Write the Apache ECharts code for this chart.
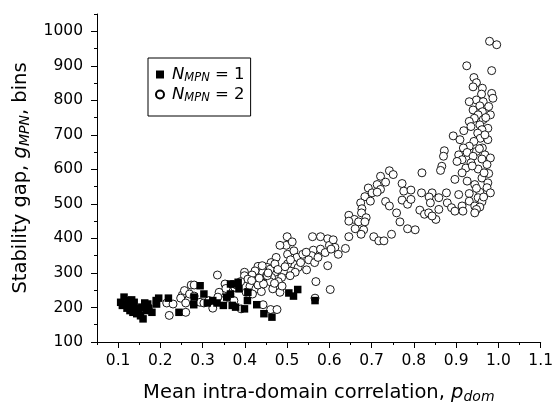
<!DOCTYPE html>
<html>
<head>
<meta charset="utf-8">
<script src="https://cdn.jsdelivr.net/npm/echarts@6/dist/echarts.min.js"></script>
<style>
html,body{margin:0;padding:0;background:#fff;}
#chart{width:556px;height:409px;}
</style>
</head>
<body>
<div id="chart"></div>
<script>
// x tick labels / y tick labels
var xTicks = [0.1,0.2,0.3,0.4,0.5,0.6,0.7,0.8,0.9,1.0,1.1];
var xMinorTicks = [0.05,0.15,0.25,0.35,0.45,0.55,0.65,0.75,0.85,0.95,1.05];
var yTicks = [100,200,300,400,500,600,700,800,900,1000];
var yMinorTicks = [150,250,350,450,550,650,750,850,950,1050];

// N_MPN = 1 (filled squares): [p_dom, gap]
var mpn1 = [
[0.114,230],[0.106,215],[0.110,206],[0.118,210],[0.124,220],[0.131,206],[0.138,215],
[0.142,196],[0.149,186],[0.156,201],[0.163,213],[0.159,167],[0.166,191],[0.173,198],
[0.180,186],[0.128,191],[0.135,186],[0.144,182],[0.121,198],[0.165,201],[0.190,220],
[0.191,210],[0.196,227],[0.219,227],[0.244,186],[0.279,208],[0.280,230],[0.294,263],
[0.303,239],[0.311,213],[0.324,220],[0.334,213],[0.349,206],[0.366,268],[0.374,268],
[0.384,273],[0.366,239],[0.370,206],[0.378,201],[0.399,196],[0.406,220],[0.407,244],
[0.428,208],[0.445,182],[0.464,172],[0.504,242],[0.515,233],[0.525,252],[0.566,220],
[0.386,254],[0.357,230],[0.153,176],[0.170,210],[0.132,222]
];

// N_MPN = 2 (open circles): [p_dom, gap]
var mpn2 = [
[0.979,971],[0.996,961],[0.925,900],[0.984,886],[0.942,866],[0.948,851],[0.940,839],
[0.962,835],[0.960,818],[0.984,820],[0.987,806],[0.948,801],[0.931,796],[0.964,796],
[0.956,784],[0.977,782],[0.940,772],[0.962,767],[0.952,758],[0.981,758],[0.943,748],
[0.931,739],[0.964,744],[0.956,729],[0.935,724],[0.975,719],[0.961,715],[0.918,712],
[0.951,705],[0.893,697],[0.957,690],[0.975,686],[0.909,686],[0.942,681],[0.931,667],
[0.917,662],[0.962,662],[0.948,652],[0.872,654],[0.926,649],[0.906,642],[0.940,638],
[0.968,642],[0.981,633],[0.870,638],[0.914,628],[0.961,630],[0.902,623],[0.935,619],
[0.973,614],[0.866,609],[0.923,604],[0.952,601],[0.863,597],[0.819,590],[0.914,590],
[0.977,588],[0.897,571],[0.926,566],[0.961,575],[0.944,556],[0.975,561],[0.973,547],
[0.877,532],[0.906,527],[0.931,530],[0.956,534],[0.981,532],[0.843,532],[0.818,532],
[0.836,520],[0.859,518],[0.952,518],[0.931,508],[0.879,503],[0.961,506],[0.839,503],
[0.944,494],[0.914,494],[0.889,489],[0.956,491],[0.814,482],[0.859,484],[0.897,479],
[0.916,479],[0.948,484],[0.944,474],[0.825,470],[0.835,474],[0.852,455],[0.843,465],
[0.968,700],[0.970,750],[0.955,660],[0.938,610],[0.966,590],[0.948,545],[0.965,520],
[0.742,596],[0.751,585],[0.721,580],[0.733,563],[0.713,556],[0.692,546],[0.772,559],
[0.721,542],[0.701,532],[0.713,534],[0.776,537],[0.793,540],[0.684,521],[0.697,508],
[0.733,507],[0.742,494],[0.772,511],[0.785,499],[0.793,513],[0.674,503],[0.677,486],
[0.676,474],[0.646,467],[0.687,460],[0.659,455],[0.669,448],[0.646,450],[0.684,448],
[0.661,428],[0.681,425],[0.675,412],[0.705,405],[0.717,393],[0.729,393],[0.747,412],
[0.759,474],[0.767,448],[0.785,428],[0.803,425],[0.646,405],[0.638,371],
[0.500,405],[0.498,380],[0.512,390],[0.483,380],[0.474,345],[0.462,330],[0.453,316],
[0.442,302],[0.431,319],[0.424,306],[0.417,294],[0.399,302],[0.399,292],[0.501,354],
[0.516,364],[0.523,345],[0.514,326],[0.501,326],[0.526,316],[0.519,302],[0.507,292],
[0.491,304],[0.487,287],[0.471,302],[0.463,287],[0.451,292],[0.459,275],[0.441,271],
[0.424,278],[0.407,282],[0.412,261],[0.426,254],[0.439,246],[0.418,239],[0.403,244],
[0.431,265],[0.479,275],[0.483,244],[0.466,254],[0.546,309],[0.537,354],[0.560,405],
[0.562,366],[0.558,350],[0.551,338],[0.565,330],[0.573,345],[0.579,405],[0.579,369],
[0.596,399],[0.600,380],[0.609,396],[0.613,374],[0.621,354],[0.590,359],[0.604,369],
[0.596,321],[0.568,275],[0.566,227],[0.602,252],
[0.221,177],[0.215,213],[0.230,210],[0.252,236],[0.257,249],[0.248,227],[0.260,213],
[0.260,186],[0.273,265],[0.280,265],[0.269,239],[0.280,233],[0.280,213],[0.294,215],
[0.303,213],[0.324,208],[0.324,198],[0.335,294],[0.339,244],[0.353,268],[0.349,220],
[0.364,246],[0.361,230],[0.374,220],[0.376,258],[0.391,196],[0.380,265],[0.443,208],
[0.461,194],[0.476,194],[0.336,230],[0.315,220],[0.453,292],[0.444,268],[0.460,311],
[0.471,326],[0.441,321],[0.416,278],[0.495,318],[0.478,310],[0.434,285],[0.470,270],
[0.488,262],[0.455,300],[0.508,338],[0.532,330],[0.545,360],[0.390,275],[0.355,255]
];

var chart = echarts.init(document.getElementById('chart'), null, {renderer:'canvas'});
var FONT = 'DejaVu Sans';
var tickFont = 15.5;
var nameFont = 19.5;
var subFont = 14;

var option = {
  backgroundColor: '#fff',
  animation: false,
  textStyle: {fontFamily: FONT, color: '#000'},
  grid: {left: 97, right: 14, top: 14, bottom: 65, containLabel: false},
  legend: {
    orient: 'vertical',
    left: 148, top: 58,
    data: ['n1','n2'],
    borderColor: '#000', borderWidth: 1, borderRadius: 0,
    padding: [7, 6, 12, 7],
    itemWidth: 8, itemHeight: 8, itemGap: 1,
    selectedMode: false,
    formatter: function(name){
      return name === 'n1'
        ? '{i|N}{s|MPN}{t| = 1}'
        : '{i|N}{s|MPN}{t| = 2}';
    },
    textStyle: {
      fontFamily: FONT, color: '#000', fontSize: 16,
      rich: {
        i: {fontFamily: FONT, fontSize: 16.5, fontStyle: 'italic', color: '#000', lineHeight: 18, padding:[0,0,0,3]},
        s: {fontFamily: FONT, fontSize: 11.5, fontStyle: 'italic', color: '#000', padding: [7,0,0,0], lineHeight: 11},
        t: {fontFamily: FONT, fontSize: 16.5, color: '#000', lineHeight: 18}
      }
    }
  },
  xAxis: [{
    type: 'value', min: 0.05, max: 1.1,
    name: 'Mean intra-domain correlation, {i|p}{s|dom}',
    nameLocation: 'middle', nameGap: 39,
    nameTextStyle: {
      fontFamily: FONT, fontSize: nameFont, color: '#000',
      rich: {
        i: {fontFamily: FONT, fontSize: nameFont, fontStyle: 'italic', color: '#000'},
        s: {fontFamily: FONT, fontSize: subFont, fontStyle: 'italic', color: '#000', padding: [9,0,0,0]}
      }
    },
    axisLine: {show: true, onZero: false, lineStyle: {color: '#000', width: 1}},
    axisTick: {show: true, inside: false, length: 6, customValues: xTicks, lineStyle: {color: '#000'}},
    axisLabel: {show: true, customValues: xTicks, margin: 11, fontFamily: FONT, fontSize: tickFont, color: '#000',
      formatter: function(v){ return v.toFixed(1); }},
    splitLine: {show: false}
  },{
    type: 'value', min: 0.05, max: 1.1, position: 'bottom',
    axisLine: {show: false},
    axisTick: {show: true, inside: false, length: 3, customValues: xMinorTicks, lineStyle: {color: '#000'}},
    axisLabel: {show: false},
    splitLine: {show: false}
  }],
  yAxis: [{
    type: 'value', min: 100, max: 1050,
    name: 'Stability gap, {i|g}{s|MPN}, bins',
    nameLocation: 'middle', nameGap: 62, nameRotate: 90,
    nameTextStyle: {
      fontFamily: FONT, fontSize: nameFont, color: '#000',
      rich: {
        i: {fontFamily: FONT, fontSize: nameFont, fontStyle: 'italic', color: '#000'},
        s: {fontFamily: FONT, fontSize: subFont, fontStyle: 'italic', color: '#000', padding: [9,0,0,0]}
      }
    },
    axisLine: {show: true, onZero: false, lineStyle: {color: '#000', width: 1}},
    axisTick: {show: true, inside: false, length: 6, customValues: yTicks, lineStyle: {color: '#000'}},
    axisLabel: {show: true, customValues: yTicks, margin: 14, fontFamily: FONT, fontSize: tickFont, color: '#000',
      formatter: function(v){ return String(v); }},
    splitLine: {show: false}
  },{
    type: 'value', min: 100, max: 1050, position: 'left',
    axisLine: {show: false},
    axisTick: {show: true, inside: false, length: 3, customValues: yMinorTicks, lineStyle: {color: '#000'}},
    axisLabel: {show: false},
    splitLine: {show: false}
  }],
  series: [{
    name: 'n2', type: 'scatter', data: mpn2,
    symbol: 'circle', symbolSize: 8,
    itemStyle: {color: '#fff', borderColor: '#000', borderWidth: 0.9, opacity: 1},
    emphasis: {disabled: true},
    z: 2
  },{
    name: 'n1', type: 'scatter', data: mpn1,
    symbol: 'rect', symbolSize: 7.5,
    itemStyle: {color: '#000', opacity: 1},
    emphasis: {disabled: true},
    z: 3
  }]
};
chart.setOption(option);
</script>
</body>
</html>
